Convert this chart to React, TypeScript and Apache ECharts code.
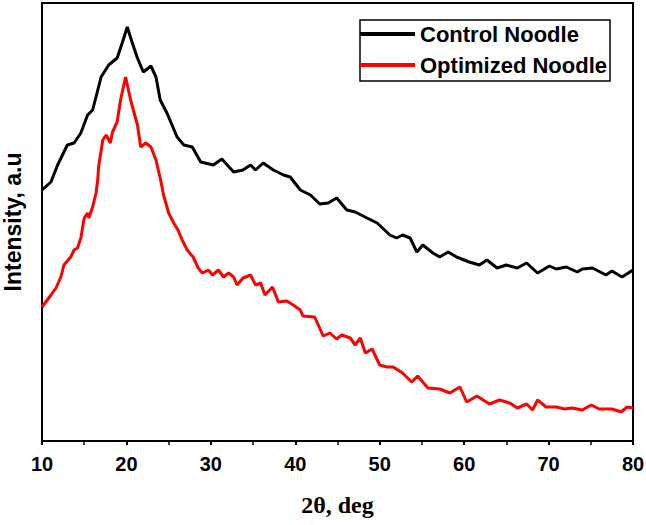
import React, { useEffect, useRef } from "react";
import * as echarts from "echarts";

// 2θ (deg) and intensity (a.u.)
const controlTheta = [10.0, 11.06, 11.85, 13.0, 13.8, 14.6, 15.4, 16.0, 17.0, 17.9, 18.9, 19.5, 20.1, 20.7, 21.3, 22.0, 22.9, 23.5, 24.0, 24.8, 26.0, 26.8, 27.8, 28.8, 30.3, 31.3, 32.7, 33.8, 34.7, 35.3, 36.2, 37.4, 38.6, 39.4, 40.6, 41.8, 42.9, 43.9, 44.9, 46.1, 47.1, 48.5, 49.7, 51.2, 52.0, 52.7, 53.6, 54.4, 55.1, 56.3, 57.1, 58.1, 59.1, 60.6, 61.8, 62.7, 63.9, 65.0, 66.3, 67.4, 68.7, 70.1, 70.9, 72.1, 73.4, 74.0, 75.2, 76.8, 77.5, 78.7, 80.0];
const controlIntensity = [251, 259, 276, 296, 298, 308, 326, 331, 364, 376, 383, 398, 414, 398, 383, 369, 375, 364, 341, 328, 304, 296, 294, 279, 276, 282, 269, 271, 276, 271, 278, 271, 266, 264, 251, 246, 237, 238, 243, 231, 229, 223, 218, 206, 203, 206, 203, 189, 196, 188, 184, 189, 184, 179, 176, 181, 173, 176, 173, 178, 168, 175, 172, 174, 169, 172, 173, 166, 170, 164, 171];

const optimizedTheta = [10.0, 11.06, 11.65, 12.24, 12.6, 13.4, 13.8, 14.2, 14.6, 15.0, 15.4, 15.55, 16.0, 16.4, 16.6, 16.7, 17.2, 17.6, 18.1, 18.35, 18.9, 19.3, 19.9, 20.5, 21.3, 21.7, 22.3, 22.9, 23.5, 24.05, 24.4, 25.0, 25.6, 26.1, 26.6, 27.2, 27.9, 28.5, 29.0, 29.7, 30.2, 30.9, 31.5, 32.1, 32.7, 33.1, 33.8, 34.7, 35.3, 35.9, 36.4, 37.3, 38.0, 39.0, 39.75, 40.6, 40.9, 42.3, 43.3, 44.1, 44.9, 45.5, 46.5, 47.1, 47.7, 48.3, 49.1, 50.0, 50.85, 51.6, 52.7, 53.8, 54.5, 55.7, 57.1, 58.3, 59.5, 60.3, 61.5, 63.0, 64.2, 65.4, 66.3, 67.4, 68.1, 68.7, 69.7, 70.9, 71.9, 72.8, 74.0, 75.05, 76.0, 77.5, 78.6, 79.3, 80.0];
const optimizedIntensity = [134, 146, 153, 164, 176, 184, 191, 193, 203, 223, 228, 223, 234, 248, 261, 274, 301, 306, 298, 309, 319, 341, 364, 341, 316, 294, 298, 294, 281, 261, 246, 228, 218, 211, 201, 191, 184, 173, 168, 171, 166, 171, 164, 168, 164, 156, 163, 166, 156, 158, 146, 154, 139, 140, 136, 131, 125, 124, 105, 108, 102, 106, 103, 96, 103, 88, 92, 76, 74, 74, 68, 59, 65, 53, 52, 48, 54, 39, 45, 37, 41, 38, 33, 37, 31, 41, 34, 34, 32, 33, 31, 36, 32, 32, 29, 34, 33];

const seriesNames = ["Control Noodle", "Optimized Noodle"];
const seriesColors = ["#000000", "#ff0000"];
const xTitle = "2θ, deg";
const yTitle = "Intensity, a.u";

const SANS = '"Liberation Sans", Arial, sans-serif';
const SERIF = '"Liberation Serif", "Times New Roman", serif';

export default function App() {
  const ref = useRef<HTMLDivElement>(null);

  useEffect(() => {
    if (!ref.current) return;
    const chart = echarts.init(ref.current, null, { renderer: "svg" });
    const pairs = (xs: number[], ys: number[]) => xs.map((x, i) => [x, ys[i]]);
    chart.setOption({
      animation: false,
      backgroundColor: "#ffffff",
      grid: {
        left: 42,
        right: 13,
        top: 3,
        bottom: 84,
        containLabel: false,
        outerBoundsMode: "none",
        show: true,
        borderColor: "#000",
        borderWidth: 2,
        backgroundColor: "transparent",
      },
      legend: {
        data: seriesNames,
        orient: "vertical",
        left: 360,
        top: 20,
        icon: "rect",
        itemWidth: 55,
        itemHeight: 4,
        itemGap: 9,
        padding: [3, 3, 5, 0],
        borderColor: "#000",
        borderWidth: 1.5,
        selectedMode: false,
        textStyle: { fontFamily: SANS, fontWeight: "bold", fontSize: 22, color: "#000" },
      },
      xAxis: {
        type: "value",
        min: 10,
        max: 80,
        interval: 10,
        name: xTitle,
        nameLocation: "middle",
        nameGap: 52,
        nameTextStyle: { fontFamily: SERIF, fontWeight: "bold", fontSize: 24, color: "#000" },
        axisLine: { show: true, onZero: false, lineStyle: { color: "#000", width: 2 } },
        axisTick: { show: true, inside: false, length: 4, lineStyle: { color: "#000", width: 2 } },
        minorTick: { show: true, splitNumber: 2, length: 4, lineStyle: { color: "#000", width: 1.5 } },
        splitLine: { show: false },
        axisLabel: { margin: 13, fontFamily: SANS, fontWeight: "bold", fontSize: 20, color: "#000" },
      },
      yAxis: {
        type: "value",
        min: 0,
        max: 438,
        name: yTitle,
        nameLocation: "middle",
        nameGap: 18,
        nameTextStyle: { fontFamily: SANS, fontWeight: "bold", fontSize: 23, color: "#000" },
        axisLine: { show: true, lineStyle: { color: "#000", width: 2 } },
        axisTick: { show: false },
        axisLabel: { show: false },
        splitLine: { show: false },
      },
      series: [
        {
          name: seriesNames[0],
          type: "line",
          data: pairs(controlTheta, controlIntensity),
          showSymbol: false,
          symbol: "none",
          color: seriesColors[0],
          lineStyle: { color: seriesColors[0], width: 3 },
        },
        {
          name: seriesNames[1],
          type: "line",
          data: pairs(optimizedTheta, optimizedIntensity),
          showSymbol: false,
          symbol: "none",
          color: seriesColors[1],
          lineStyle: { color: seriesColors[1], width: 3 },
        },
      ],
    });
    return () => chart.dispose();
  }, []);

  return (
    <div
      ref={ref}
      style={{ position: "fixed", left: 0, top: 0, width: 646, height: 525, background: "#fff" }}
    />
  );
}
